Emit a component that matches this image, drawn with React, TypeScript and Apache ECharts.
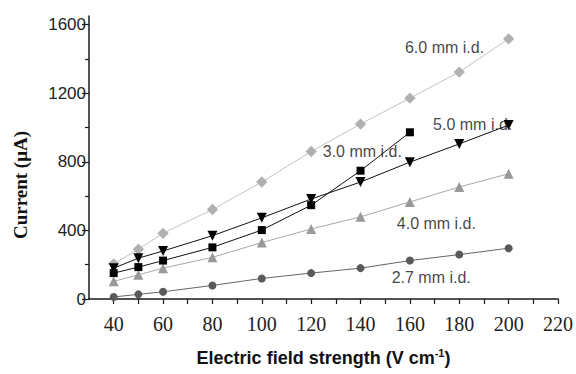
import React, { useEffect, useRef } from "react";
import * as echarts from "echarts";

const fieldX = [40, 50, 60, 80, 100, 120, 140, 160, 180, 200];
const id60 = [205, 290, 383, 522, 682, 860, 1020, 1171, 1323, 1517];
const id50 = [180, 238, 280, 369, 473, 583, 682, 798, 904, 1014];
const id30 = [151, 186, 224, 301, 402, 547, 748, 972];
const id40 = [103, 141, 180, 243, 329, 408, 479, 566, 653, 730];
const id27 = [12, 27, 42, 79, 120, 151, 180, 224, 259, 296];

const xTicks = [40, 50, 60, 70, 80, 90, 100, 110, 120, 130, 140, 150, 160, 170, 180, 190, 200, 210, 220];
const xLabels = [40, 60, 80, 100, 120, 140, 160, 180, 200, 220];
const yMajor = [0, 400, 800, 1200, 1600];
const yMinor = [200, 600, 1000, 1400];

const annoText = ["6.0 mm i.d.", "5.0 mm i.d.", "3.0 mm i.d.", "4.0 mm i.d.", "2.7 mm i.d."];
const annoX = [157.8, 169.2, 124.5, 154.5, 152.4];
const annoY = [1467, 1020, 860, 440, 128];

const pairs = (ys: number[]) => ys.map((y, i) => [fieldX[i], y]);

export default function App() {
  const ref = useRef<HTMLDivElement>(null);
  useEffect(() => {
    const chart = echarts.init(ref.current!, null, { renderer: "svg" });
    const axisColor = "#1a1a1a";
    chart.setOption({
      animation: false,
      backgroundColor: "#ffffff",
      textStyle: { fontFamily: "Liberation Sans" },
      grid: { left: 89, right: 18, top: 16, bottom: 73 },
      xAxis: {
        type: "value",
        min: 30,
        max: 220,
        splitLine: { show: false },
        axisLine: { lineStyle: { color: axisColor, width: 1.5 } },
        axisTick: { customValues: xTicks, length: 5, lineStyle: { color: axisColor, width: 1.2 } },
        axisLabel: {
          customValues: xLabels,
          formatter: (v: number) => String(v),
          fontFamily: "Liberation Serif",
          fontSize: 20,
          color: "#222",
          margin: 15,
        },
        name: "Electric field strength (V cm{sup|-1}{t|)}",
        nameLocation: "middle",
        nameGap: 48,
        nameTextStyle: {
          fontFamily: "Liberation Sans",
          fontWeight: "bold",
          fontSize: 18,
          color: "#111",
          lineHeight: 22,
          rich: {
            sup: { fontFamily: "Liberation Sans", fontWeight: "bold", fontSize: 11, verticalAlign: "top", color: "#111", lineHeight: 22, padding: [0, 0, 10, 0] },
            t: { fontFamily: "Liberation Sans", fontWeight: "bold", fontSize: 18, color: "#111", lineHeight: 22 },
          },
        },
      },
      yAxis: [
        {
          type: "value",
          min: 0,
          max: 1650,
          position: "left",
          splitLine: { show: false },
          axisLine: { show: true, lineStyle: { color: axisColor, width: 1.5 } },
          axisTick: { customValues: yMajor, length: 7, lineStyle: { color: axisColor, width: 1.2 } },
          axisLabel: {
            customValues: yMajor,
            formatter: (v: number) => String(v),
            fontFamily: "Liberation Sans",
            fontSize: 17,
            color: "#222",
            margin: 3,
          },
        },
        {
          type: "value",
          min: 0,
          max: 1650,
          position: "left",
          splitLine: { show: false },
          axisLine: { show: false },
          axisTick: { show: true, customValues: yMinor, length: 4, lineStyle: { color: axisColor, width: 1.2 } },
          axisLabel: { show: false },
        },
      ],
      graphic: [
        {
          type: "text",
          x: 20,
          y: 185,
          rotation: Math.PI / 2,
          style: {
            text: "Current (μA)",
            font: "bold 19px 'Liberation Serif'",
            fill: "#111",
            textAlign: "center",
            textVerticalAlign: "middle",
          },
        },
      ],
      series: [
        {
          type: "line",
          data: pairs(id60),
          symbol: "rect",
          symbolRotate: 45,
          symbolSize: 8,
          lineStyle: { color: "#c2c2c2", width: 1 },
          itemStyle: { color: "#b0b0b0" },
        },
        {
          type: "line",
          data: pairs(id40),
          symbol: "triangle",
          symbolSize: 10,
          lineStyle: { color: "#a8a8a8", width: 1 },
          itemStyle: { color: "#999999" },
        },
        {
          type: "line",
          data: pairs(id27),
          symbol: "circle",
          symbolSize: 8,
          lineStyle: { color: "#666666", width: 1 },
          itemStyle: { color: "#5a5a5a" },
        },
        {
          type: "line",
          data: pairs(id30),
          symbol: "rect",
          symbolSize: 8,
          lineStyle: { color: "#111111", width: 1 },
          itemStyle: { color: "#000000" },
        },
        {
          type: "line",
          data: pairs(id50),
          symbol: "triangle",
          symbolRotate: 180,
          symbolSize: 10,
          lineStyle: { color: "#111111", width: 1 },
          itemStyle: { color: "#000000" },
        },
        {
          type: "scatter",
          silent: true,
          symbolSize: 1,
          itemStyle: { color: "rgba(0,0,0,0)" },
          data: annoText.map((t, i) => ({ name: t, value: [annoX[i], annoY[i]] })),
          label: {
            show: true,
            formatter: "{b}",
            position: "right",
            distance: 0,
            fontFamily: "Liberation Sans",
            fontSize: 16,
            color: "#111",
          },
        },
      ],
    });
    return () => chart.dispose();
  }, []);
  return <div ref={ref} style={{ position: "fixed", left: 0, top: 0, width: 576, height: 374 }} />;
}
